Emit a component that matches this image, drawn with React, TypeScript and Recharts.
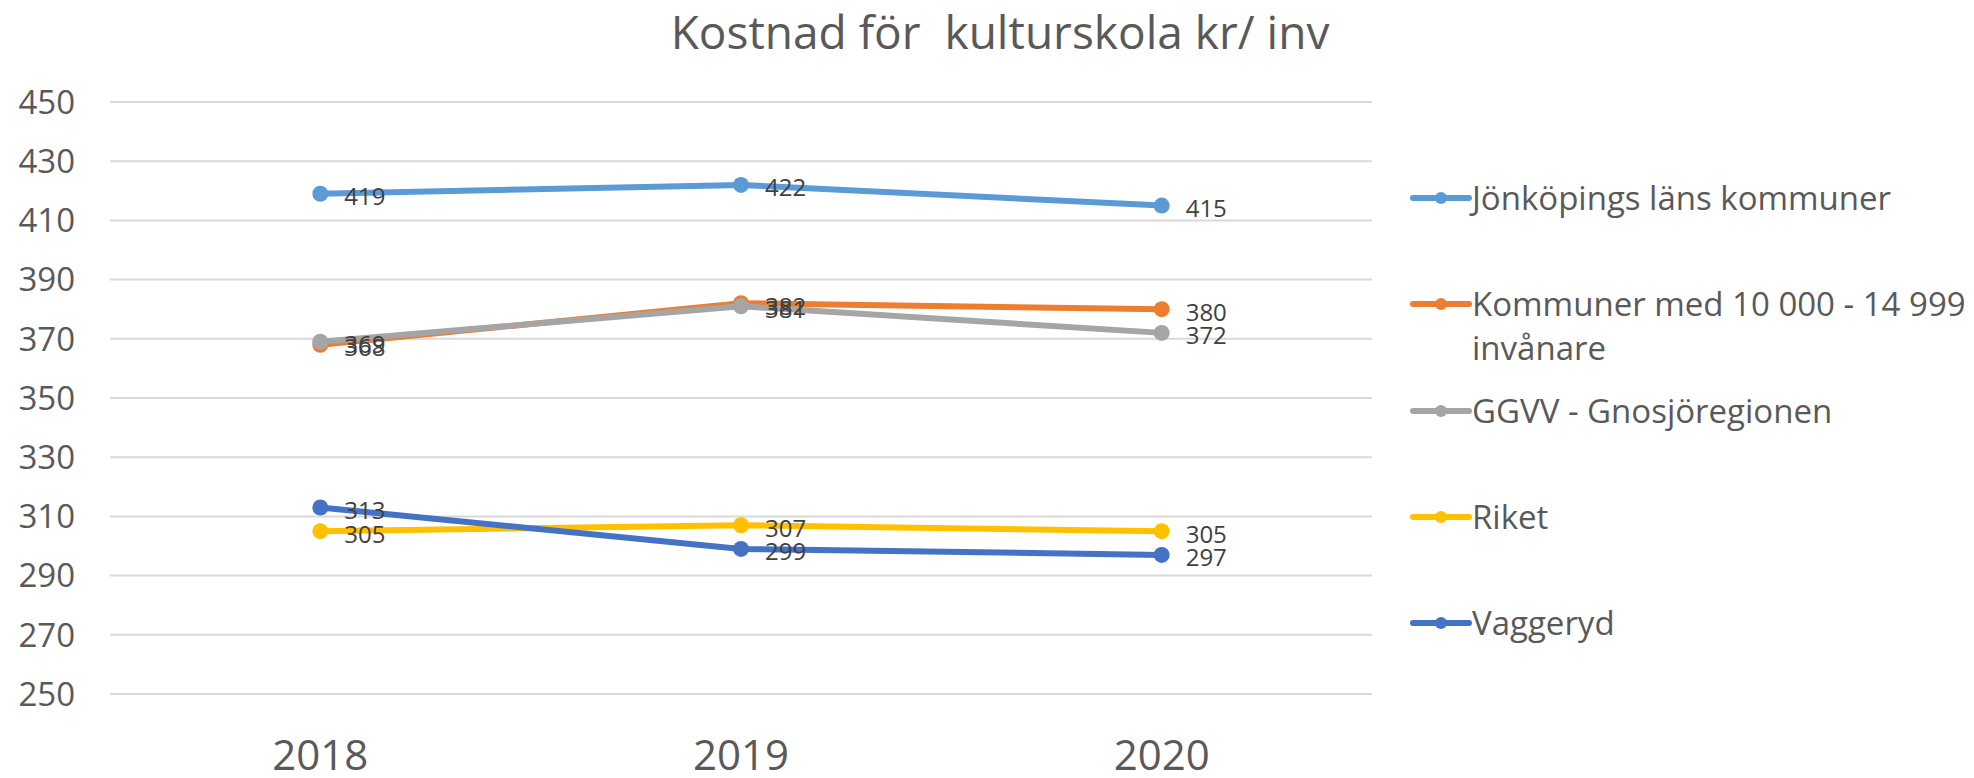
import { LineChart, Line, XAxis, YAxis, CartesianGrid } from "recharts";

const years = ["2018", "2019", "2020"];
const jonkoping = [419, 422, 415];
const kommuner = [368, 382, 380];
const ggvv = [369, 381, 372];
const riket = [305, 307, 305];
const vaggeryd = [313, 299, 297];
const yTicks = [250, 270, 290, 310, 330, 350, 370, 390, 410, 430, 450];

const series = [
  { key: "jonkoping", name: "Jönköpings läns kommuner", color: "#5B9BD5", values: jonkoping },
  { key: "kommuner", name: "Kommuner med 10 000 - 14 999 invånare", color: "#ED7D31", values: kommuner },
  { key: "ggvv", name: "GGVV - Gnosjöregionen", color: "#A5A5A5", values: ggvv },
  { key: "riket", name: "Riket", color: "#FFC000", values: riket },
  { key: "vaggeryd", name: "Vaggeryd", color: "#4472C4", values: vaggeryd },
];

const data = years.map((year, i) => {
  const row: Record<string, string | number> = { year };
  series.forEach((s) => {
    row[s.key] = s.values[i];
  });
  return row;
});

const FONT = "'Open Sans', sans-serif";

const renderLabel = (props: any) => {
  const { x, y, value } = props;
  return (
    <text
      x={x + 24}
      y={y + 2}
      fill="#404040"
      fontSize={24}
      fontFamily={FONT}
      dominantBaseline="central"
    >
      {value}
    </text>
  );
};

function LegendBox() {
  return (
    <div style={{ position: "absolute", left: 0, top: 0 }}>
      {series.map((s, i) => (
        <div
          key={s.key}
          style={{
            position: "absolute",
            left: 1410,
            top: 198 + i * 106.25 - 22,
            display: "flex",
            alignItems: "flex-start",
          }}
        >
          <svg width={62} height={44} style={{ flex: "none" }}>
            <line x1={3} x2={59} y1={22} y2={22} stroke={s.color} strokeWidth={6} strokeLinecap="round" />
            <circle cx={31} cy={22} r={6} fill={s.color} />
          </svg>
          <div
            style={{
              width: 500,
              fontSize: 33,
              lineHeight: "44px",
              color: "#595959",
              fontFamily: FONT,
            }}
          >
            {s.name}
          </div>
        </div>
      ))}
    </div>
  );
}

export default function App() {
  return (
    <div
      style={{
        position: "absolute",
        left: 0,
        top: 0,
        width: 1974,
        height: 778,
        background: "#fff",
        fontFamily: FONT,
        overflow: "hidden",
      }}
    >
      <div
        style={{
          position: "absolute",
          left: 0,
          width: 2000,
          top: 0,
          textAlign: "center",
          fontSize: 46,
          lineHeight: "62px",
          color: "#595959",
          whiteSpace: "pre",
        }}
      >
        Kostnad för  kulturskola kr/ inv
      </div>
      <LineChart
        width={1974}
        height={778}
        data={data}
        margin={{ top: 102, right: 602, bottom: 24, left: 0 }}
        style={{ position: "absolute", left: 0, top: 0 }}
      >
        <CartesianGrid vertical={false} stroke="#D9D9D9" strokeWidth={2} />
        <XAxis
          dataKey="year"
          scale="band"
          axisLine={false}
          tickLine={false}
          tickSize={0}
          tickMargin={46}
          height={60}
          interval={0}
          tick={{ fontSize: 42, fill: "#595959", fontFamily: FONT }}
        />
        <YAxis
          type="number"
          domain={[250, 450]}
          ticks={yTicks}
          interval={0}
          width={110}
          axisLine={false}
          tickLine={false}
          tickSize={0}
          tickMargin={35}
          tick={{ fontSize: 33, fill: "#595959", fontFamily: FONT }}
        />
        {series.map((s) => (
          <Line
            key={s.key}
            dataKey={s.key}
            name={s.name}
            stroke={s.color}
            strokeWidth={6}
            dot={{ r: 8, fill: s.color, stroke: s.color, strokeWidth: 0 }}
            activeDot={false}
            label={renderLabel}
            isAnimationActive={false}
          />
        ))}
      </LineChart>
      <LegendBox />
    </div>
  );
}
